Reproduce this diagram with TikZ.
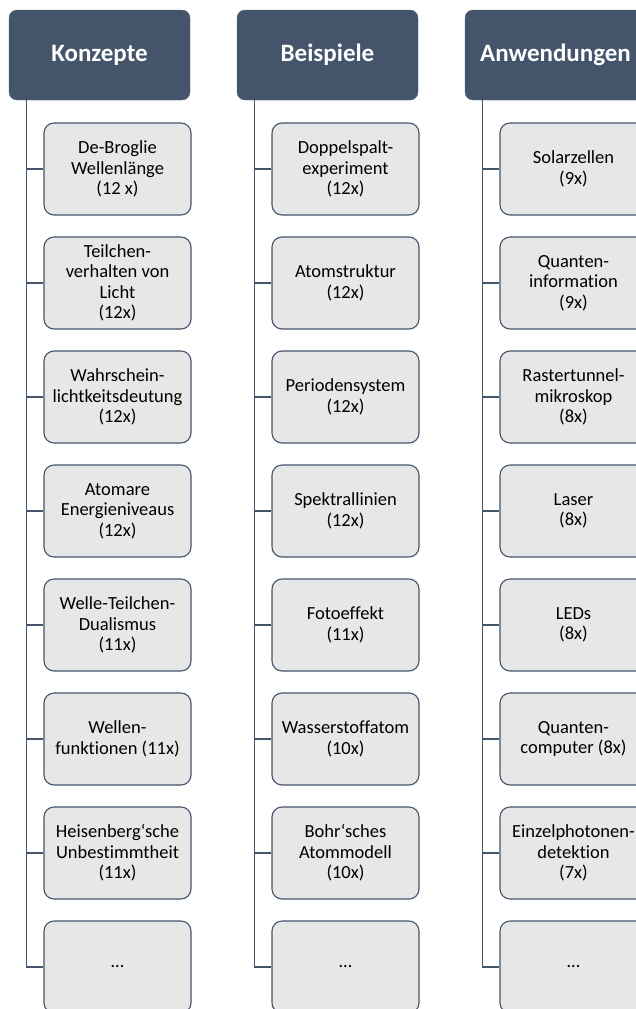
\documentclass[tikz,border=0pt]{standalone}
\usepackage{fontspec}
\setmainfont[Ligatures={NoCommon}]{Carlito}
\usepackage{tikz}
\usetikzlibrary{positioning, calc}
\usepackage{xcolor}
\definecolor{slate}{HTML}{44546A}
\definecolor{boxgray}{HTML}{E7E7E7}

\begin{document}
\begin{tikzpicture}[x=1pt, y=-1pt,
    head/.style={draw=slate!90, fill=slate, rounded corners=8pt, minimum width=181pt,
      minimum height=90pt, text=white, font=\fontsize{25}{29}\selectfont\bfseries},
    item/.style={draw=slate, line width=1.1pt, fill=boxgray, rounded corners=10pt,
      minimum width=147pt, minimum height=92pt, align=center, inner sep=1pt,
      font=\fontsize{18.5}{20.5}\selectfont},
    conn/.style={draw=slate, line width=1.6pt}]
  \useasboundingbox (0, 0) rectangle (635, 1009);

  % Konzepte
  \node[head] (konz) at (99.5, 55) {Konzepte};
  \coordinate (konzl) at ($(konz.south west)+(17.5, 0)$);
  \node[item] (konz1) at (117.5, 169) {De-Broglie\\Wellenlänge\\(12 x)};
  \node[item] (konz2) at (117.5, 283) {Teilchen-\\verhalten von\\Licht\\(12x)};
  \node[item] (konz3) at (117.5, 397) {Wahrschein-\\lichtkeitsdeutung\\(12x)};
  \node[item] (konz4) at (117.5, 511) {Atomare\\Energieniveaus\\(12x)};
  \node[item] (konz5) at (117.5, 625) {Welle-Teilchen-\\Dualismus\\(11x)};
  \node[item] (konz6) at (117.5, 739) {Wellen-\\funktionen (11x)};
  \node[item] (konz7) at (117.5, 853) {Heisenberg‘sche\\Unbestimmtheit\\(11x)};
  \node[item] (konz8) at (117.5, 967) {…};

  % Beispiele
  \node[head] (beis) at (327.5, 55) {Beispiele};
  \coordinate (beisl) at ($(beis.south west)+(17.5, 0)$);
  \node[item] (beis1) at (345.5, 169) {Doppelspalt-\\experiment\\(12x)};
  \node[item] (beis2) at (345.5, 283) {Atomstruktur\\(12x)};
  \node[item] (beis3) at (345.5, 397) {Periodensystem\\(12x)};
  \node[item] (beis4) at (345.5, 511) {Spektrallinien\\(12x)};
  \node[item] (beis5) at (345.5, 625) {Fotoeffekt\\(11x)};
  \node[item] (beis6) at (345.5, 739) {Wasserstoffatom\\(10x)};
  \node[item] (beis7) at (345.5, 853) {Bohr‘sches\\Atommodell\\(10x)};
  \node[item] (beis8) at (345.5, 967) {…};

  % Anwendungen
  \node[head] (anw) at (555.5, 55) {Anwendungen};
  \coordinate (anwl) at ($(anw.south west)+(17.5, 0)$);
  \node[item] (anw1) at (573.5, 169) {Solarzellen\\(9x)};
  \node[item] (anw2) at (573.5, 283) {Quanten-\\information\\(9x)};
  \node[item] (anw3) at (573.5, 397) {Rastertunnel-\\mikroskop\\(8x)};
  \node[item] (anw4) at (573.5, 511) {Laser\\(8x)};
  \node[item] (anw5) at (573.5, 625) {LEDs\\(8x)};
  \node[item] (anw6) at (573.5, 739) {Quanten-\\computer (8x)};
  \node[item] (anw7) at (573.5, 853) {Einzelphotonen-\\detektion\\(7x)};
  \node[item] (anw8) at (573.5, 967) {…};

  % connectors
  \draw[conn] (konzl) |- (konz8.west);
  \draw[conn] (beisl) |- (beis8.west);
  \draw[conn] (anwl) |- (anw8.west);
  \draw[conn] (konz1.west) -- (konz1.west -| konzl);
  \draw[conn] (konz2.west) -- (konz2.west -| konzl);
  \draw[conn] (konz3.west) -- (konz3.west -| konzl);
  \draw[conn] (konz4.west) -- (konz4.west -| konzl);
  \draw[conn] (konz5.west) -- (konz5.west -| konzl);
  \draw[conn] (konz6.west) -- (konz6.west -| konzl);
  \draw[conn] (konz7.west) -- (konz7.west -| konzl);
  \draw[conn] (beis1.west) -- (beis1.west -| beisl);
  \draw[conn] (beis2.west) -- (beis2.west -| beisl);
  \draw[conn] (beis3.west) -- (beis3.west -| beisl);
  \draw[conn] (beis4.west) -- (beis4.west -| beisl);
  \draw[conn] (beis5.west) -- (beis5.west -| beisl);
  \draw[conn] (beis6.west) -- (beis6.west -| beisl);
  \draw[conn] (beis7.west) -- (beis7.west -| beisl);
  \draw[conn] (anw1.west) -- (anw1.west -| anwl);
  \draw[conn] (anw2.west) -- (anw2.west -| anwl);
  \draw[conn] (anw3.west) -- (anw3.west -| anwl);
  \draw[conn] (anw4.west) -- (anw4.west -| anwl);
  \draw[conn] (anw5.west) -- (anw5.west -| anwl);
  \draw[conn] (anw6.west) -- (anw6.west -| anwl);
  \draw[conn] (anw7.west) -- (anw7.west -| anwl);
\end{tikzpicture}
\end{document}
